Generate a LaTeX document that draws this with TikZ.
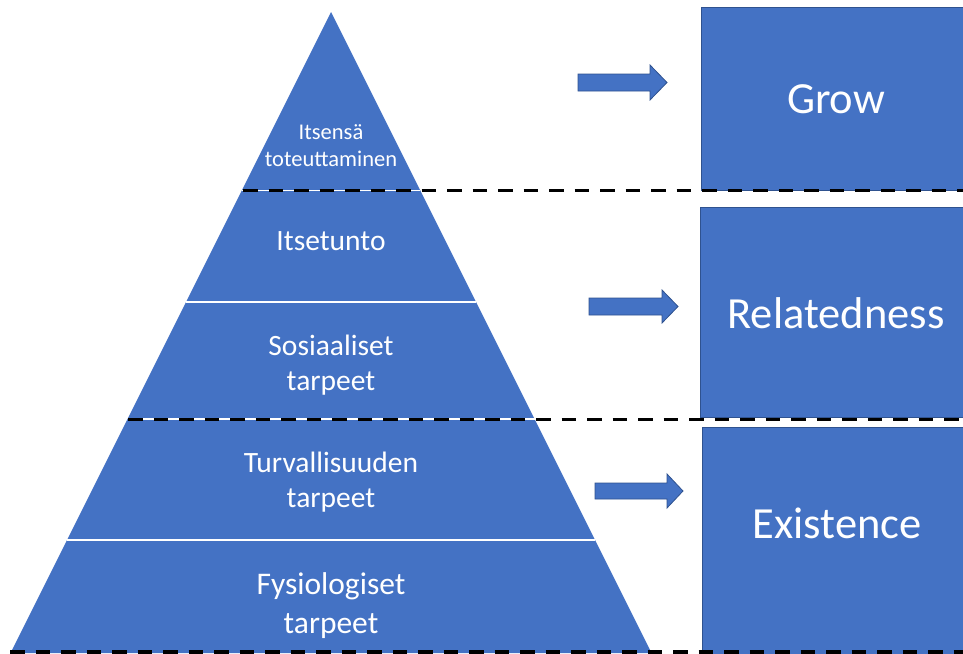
\documentclass[tikz,border=0pt]{standalone}
\usepackage{fontspec}
\setmainfont{Carlito}
\definecolor{office}{HTML}{4472C4}
\definecolor{officeedge}{HTML}{2F528F}
\begin{document}
\begin{tikzpicture}[x=1pt,y=-1pt,
  blk/.style={fill=office, draw=officeedge, line width=0.8pt},
  pyr/.style={fill=office},
  sep/.style={draw=white, line width=1.3pt},
  dsh/.style={draw=black, line width=3pt, dash pattern=on 14.5pt off 11pt},
  lbl/.style={text=white, align=center, inner sep=0pt, font=\fontsize{29.5}{35}\selectfont},
  wide/.style={text=white, align=center, inner sep=0pt, font=\fontsize{31.5}{39}\selectfont},
  small/.style={text=white, align=center, inner sep=0pt, font=\fontsize{22.5}{27}\selectfont},
  big/.style={text=white, inner sep=0pt, font=\fontsize{44.5}{53}\selectfont}]
\useasboundingbox (0,0) rectangle (963,653);
\clip (0,0) rectangle (963,653);
% pyramid
\coordinate (apex) at (331,12);
\coordinate (bl) at (10.5,653);
\coordinate (br) at (651.5,653);
\fill[pyr] (apex) -- (br) -- (bl) -- cycle;
% layer separators
\draw[sep] (241.75,190.5) -- (420.25,190.5);
\draw[sep] (186,302) -- (476,302);
\draw[sep] (127.5,419) -- (534.5,419);
\draw[sep] (67,540) -- (595,540);
% pyramid labels
\node[small] (l1) at (331,146) {Itsensä\\toteuttaminen};
\node[lbl] (l2) at (331,241) {Itsetunto};
\node[lbl] (l3) at (331,365) {Sosiaaliset\\tarpeet};
\node[lbl] (l4) at (331,482) {Turvallisuuden\\tarpeet};
\node[wide] (l5) at (331,606) {Fysiologiset\\tarpeet};
% right boxes
\draw[blk] (701,7) rectangle (980,190);
\draw[blk] (700,207) rectangle (980,417);
\draw[blk] (702,427) rectangle (980,665);
\node[big] (grow) at (836,99) {Grow};
\node[big] (rel) at (836,313) {Relatedness};
\node[big] (exi) at (837,523) {Existence};
% block arrows
\draw[blk] (578,74) -- (650,74) -- (650,65) -- (667,82.5) -- (650,100) -- (650,91) -- (578,91) -- cycle;
\draw[blk] (589,298) -- (662,298) -- (662,290) -- (678,306.5) -- (662,323) -- (662,315) -- (589,315) -- cycle;
\draw[blk] (595,483) -- (667,483) -- (667,474) -- (683,491) -- (667,508) -- (667,499) -- (595,499) -- cycle;
% dashed level lines
\draw[dsh] (243,190.5) -- (963,190.5);
\draw[dsh] (128,419) -- (963,419);
\draw[dsh, line width=4pt] (10,651.5) -- (963,651.5);
\end{tikzpicture}
\end{document}
